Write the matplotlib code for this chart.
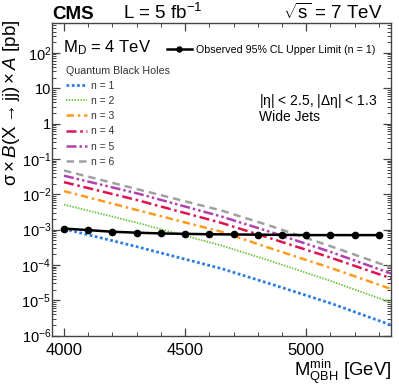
import matplotlib
matplotlib.use("Agg")
import matplotlib.pyplot as plt
from matplotlib.ticker import FixedLocator, FixedFormatter, LogLocator, NullFormatter, MultipleLocator

plt.rcParams['font.family'] = ['Liberation Sans', 'DejaVu Sans']
plt.rcParams['mathtext.fontset'] = 'custom'
plt.rcParams['mathtext.rm'] = 'Liberation Sans'
plt.rcParams['mathtext.it'] = 'Liberation Sans:italic'
plt.rcParams['mathtext.bf'] = 'Liberation Sans:bold'
plt.rcParams['mathtext.default'] = 'regular'

# observed 95% CL upper limit (n = 1)
obs_mass = [4000, 4100, 4200, 4300, 4400, 4500, 4600, 4700, 4800, 4900, 5000, 5100, 5200, 5300]
obs_limit = [1.07e-3, 9.7e-4, 8.7e-4, 8.2e-4, 7.8e-4, 7.6e-4, 7.4e-4, 7.3e-4, 7.2e-4,
             7.1e-4, 7.0e-4, 7.0e-4, 7.0e-4, 7.0e-4]

# QBH signal cross sections, read at these masses
qbh_mass = [4000, 4300, 4650, 4850, 5100, 5350]
qbh_n1 = [1.05e-3, 3.3e-4, 7.9e-5, 2.95e-5, 8.3e-6, 2.0e-6]
qbh_n2 = [5.1e-3, 1.58e-3, 3.55e-4, 1.32e-4, 3.55e-5, 8.7e-6]
qbh_n3 = [1.23e-2, 3.6e-3, 8.7e-4, 3.0e-4, 8.3e-5, 2.1e-5]
qbh_n4 = [2.2e-2, 6.9e-3, 1.55e-3, 5.75e-4, 1.62e-4, 4.2e-5]
qbh_n5 = [3.35e-2, 1.07e-2, 2.35e-3, 8.7e-4, 2.35e-4, 5.75e-5]
qbh_n6 = [4.7e-2, 1.41e-2, 3.47e-3, 1.29e-3, 3.4e-4, 8.5e-5]
qbh_labels = ["n = 1", "n = 2", "n = 3", "n = 4", "n = 5", "n = 6"]

ytick_vals = [1e-6, 1e-5, 1e-4, 1e-3, 1e-2, 1e-1, 1, 10, 100]
ytick_labels = ["$10^{-6}$", "$10^{-5}$", "$10^{-4}$", "$10^{-3}$", "$10^{-2}$",
                "$10^{-1}$", "1", "10", "$10^{2}$"]
xtick_vals = [4000, 4500, 5000]
xtick_labels = ["4000", "4500", "5000"]

colors = ["#2b7fe3", "#66c234", "#ff9a1c", "#dc1450", "#b040b0", "#a0a0a0"]
styles = [(0, (1.0, 0.9)), (0, (0.8, 0.8)), (0, (3, 1.5, 1, 1.5)),
          (0, (4, 1.5, 1, 1.5)), (0, (4, 1.2, 1, 1.2, 1, 1.2)), (0, (3, 2))]
widths = [2.0, 1.3, 1.8, 1.8, 1.8, 1.8]

fig = plt.figure(figsize=(3.99, 3.87), dpi=100)
ax = fig.add_axes([0.130, 0.1326, 0.850, 0.808])

handles = []
series = [qbh_n1, qbh_n2, qbh_n3, qbh_n4, qbh_n5, qbh_n6]
for i in range(len(series)):
    h, = ax.plot(qbh_mass, series[i], color=colors[i], ls=styles[i], lw=widths[i],
                 label=qbh_labels[i])
    handles.append(h)

hobs, = ax.plot(obs_mass, obs_limit, color='black', lw=1.8, marker='o', ms=4.5,
                label="Observed 95% CL Upper Limit (n = 1)", zorder=5)

ax.set_yscale('log')
ax.set_xlim(3950, 5350)
ax.set_ylim(1e-6, 7e2)

ax.yaxis.set_major_locator(FixedLocator(ytick_vals))
ax.yaxis.set_major_formatter(FixedFormatter(ytick_labels))
ax.yaxis.set_minor_locator(LogLocator(base=10, subs=range(2, 10), numticks=20))
ax.yaxis.set_minor_formatter(NullFormatter())
ax.xaxis.set_major_locator(FixedLocator(xtick_vals))
ax.xaxis.set_major_formatter(FixedFormatter(xtick_labels))
ax.xaxis.set_minor_locator(MultipleLocator(100))

ax.tick_params(which='both', direction='in', top=True, right=True, color='#444444')
ax.tick_params(which='major', length=6, width=0.9)
ax.tick_params(which='minor', length=3.2, width=0.7)
ax.tick_params(axis='y', labelsize=10.5, pad=0.5)
ax.tick_params(axis='x', labelsize=12, pad=5)
for s in ax.spines.values():
    s.set_linewidth(1.0)
    s.set_color('#444444')

ax.set_xlabel(r"M$_{QBH}^{min}$ [GeV]", fontsize=13.3, loc='right')
ax.xaxis.set_label_coords(1.0, -0.069)
ax.set_ylabel(r"$\sigma\times\mathit{B}(X\rightarrow jj)\times\mathit{A}$ [pb]", fontsize=13.5, loc='top')
ax.yaxis.set_label_coords(-0.087, 1.01)

# header
fig.text(52/399, 1-19/387, "CMS", fontsize=13.5, fontweight='bold', ha='left', va='baseline')
fig.text(123/399, 1-19/387, "L = 5 fb$^{-1}$", fontsize=13.5, ha='left', va='baseline')
fig.text(383/399, 1-19/387, r"$\sqrt{s}$ = 7 TeV", fontsize=13.5, ha='right', va='baseline')

ax.text(0.033, 0.92, "M$_{D}$ = 4 TeV", transform=ax.transAxes, fontsize=12, va='center')
ax.text(0.61, 0.75, r"|$\eta$| < 2.5, |$\Delta\eta$| < 1.3", transform=ax.transAxes,
        fontsize=10, va='center')
ax.text(0.61, 0.70, "Wide Jets", transform=ax.transAxes, fontsize=10, va='center')

leg1 = ax.legend(handles=[hobs], loc='center left', bbox_to_anchor=(0.34, 0.915),
                 frameon=False, fontsize=7.7, handlelength=2.3, handletextpad=0.4,
                 borderpad=0, borderaxespad=0, markerscale=0.8)
ax.add_artist(leg1)
leg2 = ax.legend(handles=handles, loc='upper left', bbox_to_anchor=(0.043, 0.864),
                 frameon=False, fontsize=7.5, handlelength=2.0, handletextpad=0.35,
                 labelspacing=0.5, borderpad=0, borderaxespad=0,
                 title="Quantum Black Holes", title_fontsize=7.7, alignment='left')
for t in leg2.get_texts():
    t.set_color('#333333')
leg2.get_title().set_color('#333333')

fig.savefig("out.png", dpi=100)
